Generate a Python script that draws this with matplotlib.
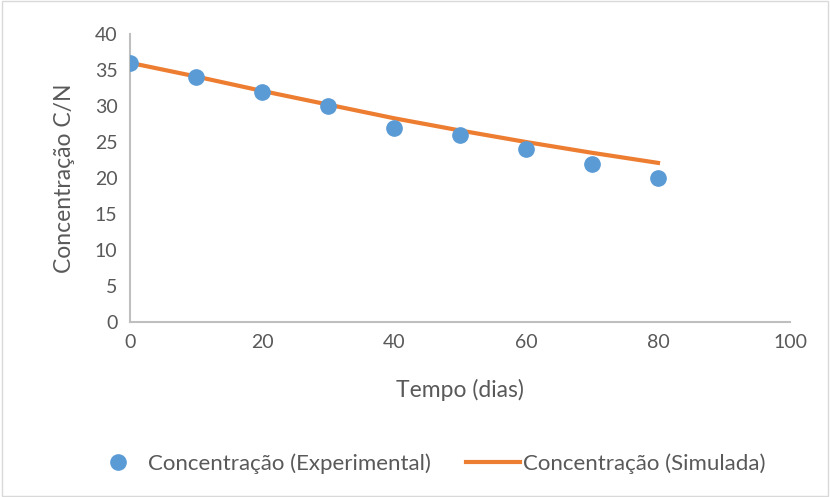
import matplotlib
matplotlib.use('Agg')
import matplotlib.pyplot as plt
from matplotlib.patches import Rectangle

# data
tempo = [0, 10, 20, 30, 40, 50, 60, 70, 80]
conc_exp = [36, 34, 32, 30, 27, 26, 24, 22, 20]
conc_sim = [36, 34.1, 32.1, 30.2, 28.3, 26.6, 25.0, 23.5, 22.1]

plt.rcParams['font.family'] = ['Lato', 'DejaVu Sans']
cinza = '#595959'

fig = plt.figure(figsize=(8.3, 4.97), dpi=100)
ax = fig.add_axes([130/830, (497-322)/497, (790-130)/830, (322-34)/497])

ax.plot(tempo, conc_sim, color='#ED7D31', linewidth=3, label='Concentração (Simulada)', zorder=2)
ax.plot(tempo, conc_exp, 'o', color='#5B9BD5', markersize=11, label='Concentração (Experimental)', zorder=3)

ax.set_xlim(0, 100)
ax.set_ylim(0, 40)
ax.set_xticks(range(0, 101, 20))
ax.set_yticks(range(0, 41, 5))
ax.tick_params(length=0, labelsize=14, labelcolor=cinza, pad=9)
for s in ['top', 'right']:
    ax.spines[s].set_visible(False)
for s in ['left', 'bottom']:
    ax.spines[s].set_color('#BFBFBF')
    ax.spines[s].set_linewidth(1.5)

ax.set_xlabel('Tempo (dias)', fontsize=16.5, color=cinza, labelpad=20)
ax.set_ylabel('Concentração C/N', fontsize=16.5, color=cinza, labelpad=14)

h, l = ax.get_legend_handles_labels()
fig.legend(h[::-1], l[::-1], loc='center', bbox_to_anchor=(0.516, 0.068), ncol=2, frameon=False,
           fontsize=16, labelcolor=cinza, handlelength=2.4, columnspacing=1.6, handletextpad=0.15)

fig.patches.append(Rectangle((0.002, 0.003), 0.996, 0.994, transform=fig.transFigure,
                             fill=False, edgecolor='#D9D9D9', linewidth=1))

fig.savefig('out.png', dpi=100)
